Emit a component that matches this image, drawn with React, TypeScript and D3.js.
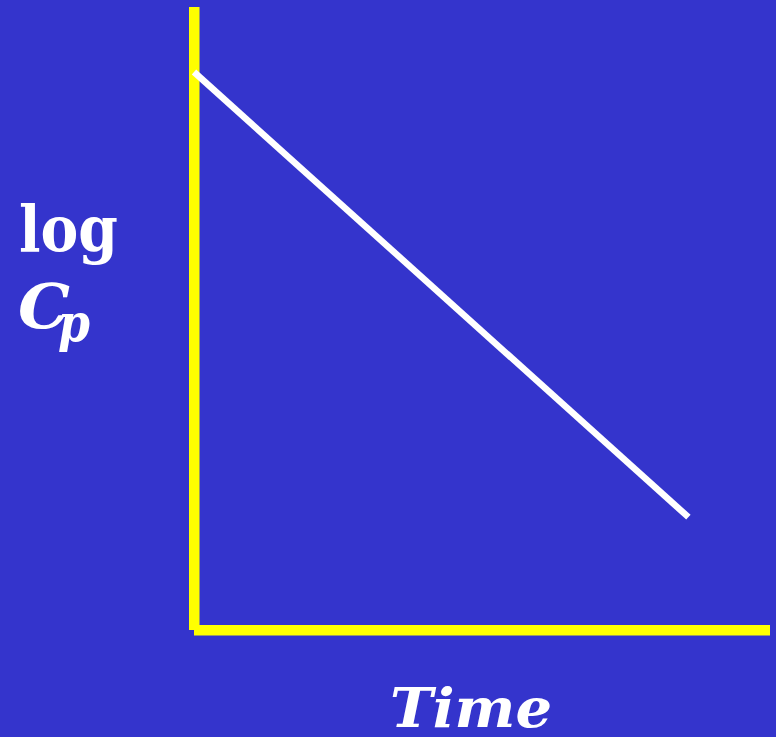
import React from "react";
import * as d3 from "d3";

const W = 776;
const H = 737;

// Data: a straight-line decline of log Cp against time
const timeValues = [0, 10.3];
const logCpValues = [9.0, 1.82];

const xLabel = "Time";
const yLabelTop = "log";
const yLabelMain = "C";
const yLabelSub = "p";

export default function App() {
  const x = d3.scaleLinear().domain([0, 12]).range([194, 770]);
  const y = d3.scaleLinear().domain([0, 10]).range([630, 10]);

  const pts: [number, number][] = timeValues.map((t, i) => [t, logCpValues[i]]);
  const line = d3
    .line<[number, number]>()
    .x((d) => x(d[0]))
    .y((d) => y(d[1]));

  const bg = "#3434CC";
  const yellow = "#FFFF00";
  const font = "'DejaVu Serif', serif";

  return (
    <svg
      width={W}
      height={H}
      style={{ position: "fixed", top: 0, left: 0, display: "block" }}
    >
      <rect x={0} y={0} width={W} height={H} fill={bg} />
      {/* Y axis */}
      <rect x={189} y={7} width={10.5} height={623} fill={yellow} />
      {/* X axis */}
      <rect x={194} y={625} width={576} height={10.5} fill={yellow} />
      {/* data line */}
      <path d={line(pts) || ""} fill="none" stroke="#FFFFFF" strokeWidth={6.5} />
      {/* Y label */}
      <text
        x={19}
        y={251}
        fill="#FFFFFF"
        fontFamily={font}
        fontWeight="bold"
        fontSize={64}
        textLength={99}
        lengthAdjust="spacingAndGlyphs"
      >
        {yLabelTop}
      </text>
      <text
        x={18}
        y={328}
        fill="#FFFFFF"
        fontFamily={font}
        fontWeight="bold"
        fontStyle="italic"
        fontSize={62}
        textLength={52}
        lengthAdjust="spacingAndGlyphs"
      >
        {yLabelMain}
      </text>
      <text
        x={58}
        y={341}
        fill="#FFFFFF"
        fontFamily={font}
        fontWeight="bold"
        fontStyle="italic"
        fontSize={52}
        textLength={32}
        lengthAdjust="spacingAndGlyphs"
      >
        {yLabelSub}
      </text>
      {/* X label */}
      <text
        x={390}
        y={727}
        fill="#FFFFFF"
        fontFamily={font}
        fontWeight="bold"
        fontStyle="italic"
        fontSize={54}
        textLength={162}
        lengthAdjust="spacingAndGlyphs"
      >
        {xLabel}
      </text>
    </svg>
  );
}
